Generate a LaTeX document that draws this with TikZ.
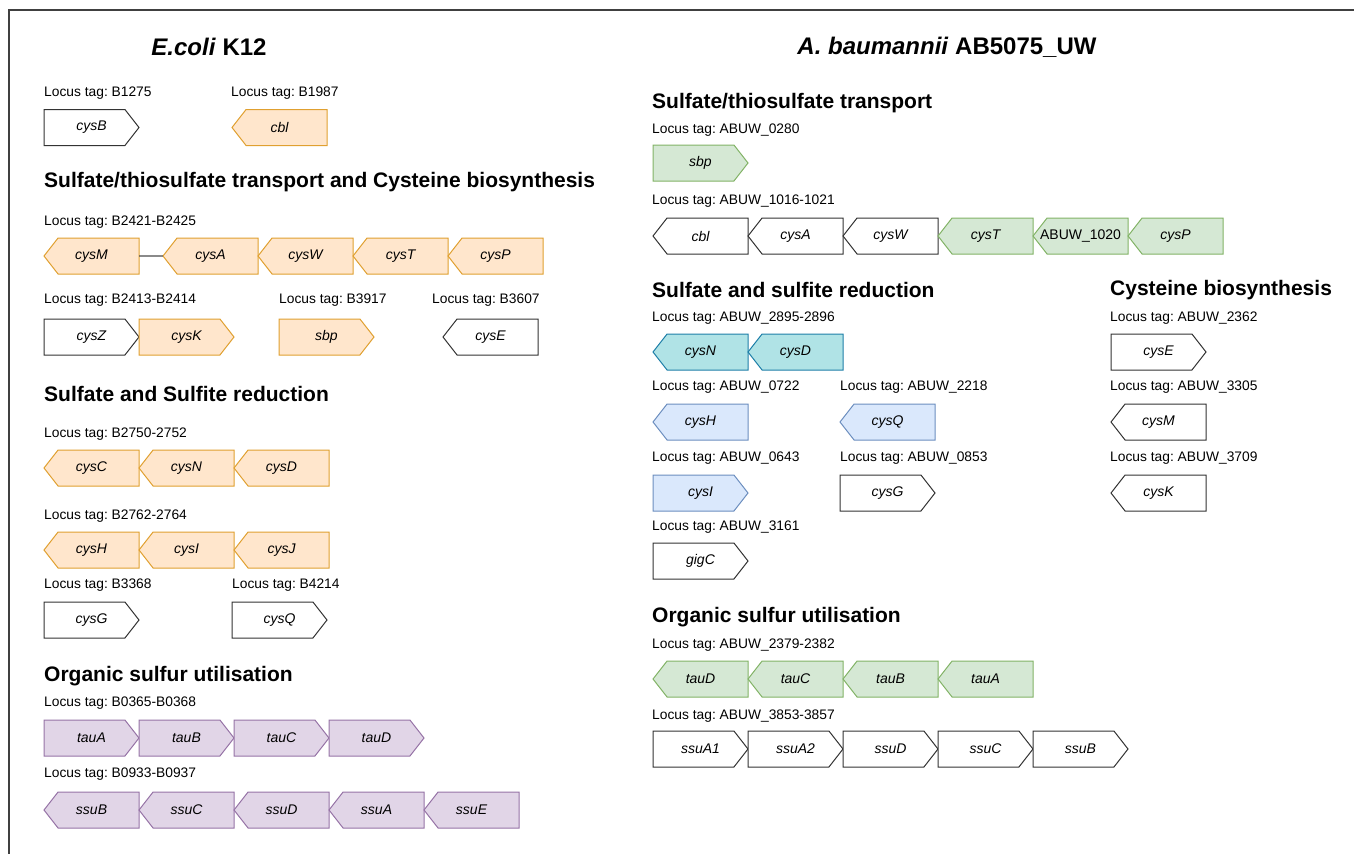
\documentclass[tikz,border=0pt]{standalone}
\usepackage{fontspec}
\setmainfont{Liberation Sans}
\usetikzlibrary{shapes.symbols, positioning}
\frenchspacing

\definecolor{ecOrangeF}{HTML}{FFE6CC}
\definecolor{ecOrangeD}{HTML}{E0A030}
\definecolor{ecPurpleF}{HTML}{E1D5E7}
\definecolor{ecPurpleD}{HTML}{9673A6}
\definecolor{abGreenF}{HTML}{D5E8D4}
\definecolor{abGreenD}{HTML}{82B366}
\definecolor{abBlueF}{HTML}{DAE8FC}
\definecolor{abBlueD}{HTML}{6C8EBF}
\definecolor{abTealF}{HTML}{B0E3E6}
\definecolor{abTealD}{HTML}{1E7FA8}

\tikzset{
  gene/.style={signal, signal from=nothing, signal pointer angle=104, anchor=west,
    minimum width=95pt, minimum height=36pt, inner sep=0pt, outer sep=0pt,
    line width=1pt, font=\fontsize{14}{16}\selectfont\itshape},
  fwd/.style={gene, signal to=east,
    execute at begin node={\hspace*{14pt}\hbox to 0pt\bgroup\hss},
    execute at end node={\hss\egroup}},
  rev/.style={gene, signal to=west,
    execute at begin node={\hbox to 0pt\bgroup\hss},
    execute at end node={\hss\egroup\hspace*{14pt}}},
  blank/.style={draw=black!80, fill=white},
  ecorange/.style={draw=ecOrangeD, fill=ecOrangeF},
  ecpurple/.style={draw=ecPurpleD, fill=ecPurpleF},
  abgreen/.style={draw=abGreenD, fill=abGreenF},
  abblue/.style={draw=abBlueD, fill=abBlueF},
  abteal/.style={draw=abTealD, fill=abTealF},
  tag/.style={anchor=west, inner sep=0pt, font=\fontsize{13.8}{16}\selectfont},
  head/.style={anchor=west, inner sep=0pt, font=\fontsize{21}{25}\selectfont\bfseries},
  title/.style={inner sep=0pt, font=\fontsize{24}{28}\selectfont\bfseries},
  link/.style={line width=1.2pt, black!70},
  frame/.style={line width=1.5pt, black!75}
}

\begin{document}
\begin{tikzpicture}[x=1pt, y=-1pt]
  \useasboundingbox (0,0) rectangle (1354,854);
  \draw [frame] (1354,10) -- (9,10) -- (9,854);

  %% E. coli K12
  \node (ecTitle) [title] at (209,47) {\textit{E.coli} K12};

  \node (ecTagB1275) [tag] at (44,93)  {Locus tag: B1275};
  \node (ecTagB1987) [tag] at (231,93) {Locus tag: B1987};
  \node (ecCysB) [fwd, blank]    at (44,127.5)  {cysB};
  \node (ecCbl)  [rev, ecorange] at (232,127.5) {cbl};

  \node (ecHeadTrans) [head] at (44,182) {Sulfate/thiosulfate transport and Cysteine biosynthesis};

  \node (ecTagB2421) [tag] at (44,222) {Locus tag: B2421-B2425};
  \node (ecCysM) [rev, ecorange] at (44,256) {cysM};
  \node (ecCysA) [rev, ecorange, right=24pt of ecCysM] {cysA};
  \node (ecCysW) [rev, ecorange, right=0pt of ecCysA]  {cysW};
  \node (ecCysT) [rev, ecorange, right=0pt of ecCysW]  {cysT};
  \node (ecCysP) [rev, ecorange, right=0pt of ecCysT]  {cysP};
  \draw [link] (ecCysM) -- (ecCysA);

  \node (ecTagB2413) [tag] at (44,300)  {Locus tag: B2413-B2414};
  \node (ecTagB3917) [tag] at (279,300) {Locus tag: B3917};
  \node (ecTagB3607) [tag] at (432,300) {Locus tag: B3607};
  \node (ecCysZ) [fwd, blank]    at (44,337) {cysZ};
  \node (ecCysK) [fwd, ecorange, right=0pt of ecCysZ] {cysK};
  \node (ecSbp)  [fwd, ecorange] at (279,337) {sbp};
  \node (ecCysE) [rev, blank]    at (443,337) {cysE};

  \node (ecHeadRed) [head] at (44,394) {Sulfate and Sulfite reduction};

  \node (ecTagB2750) [tag] at (44,434) {Locus tag: B2750-2752};
  \node (ecCysC) [rev, ecorange] at (44,468) {cysC};
  \node (ecCysN) [rev, ecorange, right=0pt of ecCysC] {cysN};
  \node (ecCysD) [rev, ecorange, right=0pt of ecCysN] {cysD};

  \node (ecTagB2762) [tag] at (44,516) {Locus tag: B2762-2764};
  \node (ecCysH) [rev, ecorange] at (44,550) {cysH};
  \node (ecCysI) [rev, ecorange, right=0pt of ecCysH] {cysI};
  \node (ecCysJ) [rev, ecorange, right=0pt of ecCysI] {cysJ};

  \node (ecTagB3368) [tag] at (44,585)  {Locus tag: B3368};
  \node (ecTagB4214) [tag] at (232,585) {Locus tag: B4214};
  \node (ecCysG) [fwd, blank] at (44,620)  {cysG};
  \node (ecCysQ) [fwd, blank] at (232,620) {cysQ};

  \node (ecHeadOrg) [head] at (44,676) {Organic sulfur utilisation};

  \node (ecTagB0365) [tag] at (44,703) {Locus tag: B0365-B0368};
  \node (ecTauA) [fwd, ecpurple] at (44,738) {tauA};
  \node (ecTauB) [fwd, ecpurple, right=0pt of ecTauA] {tauB};
  \node (ecTauC) [fwd, ecpurple, right=0pt of ecTauB] {tauC};
  \node (ecTauD) [fwd, ecpurple, right=0pt of ecTauC] {tauD};

  \node (ecTagB0933) [tag] at (44,774) {Locus tag: B0933-B0937};
  \node (ecSsuB) [rev, ecpurple] at (44,810) {ssuB};
  \node (ecSsuC) [rev, ecpurple, right=0pt of ecSsuB] {ssuC};
  \node (ecSsuD) [rev, ecpurple, right=0pt of ecSsuC] {ssuD};
  \node (ecSsuA) [rev, ecpurple, right=0pt of ecSsuD] {ssuA};
  \node (ecSsuE) [rev, ecpurple, right=0pt of ecSsuA] {ssuE};

  %% A. baumannii AB5075_UW
  \node (abTitle) [title] at (947,47) {\textit{A. baumannii} AB5075\_UW};

  \node (abHeadTrans) [head] at (652,103) {Sulfate/thiosulfate transport};
  \node (abTag0280) [tag] at (652,130) {Locus tag: ABUW\_0280};
  \node (abSbp) [fwd, abgreen] at (653,163) {sbp};

  \node (abTag1016) [tag] at (652,201) {Locus tag: ABUW\_1016-1021};
  \node (abCbl)  [rev, blank] at (653,236) {cbl};
  \node (abCysA) [rev, blank, right=0pt of abCbl]  {cysA};
  \node (abCysW) [rev, blank, right=0pt of abCysA] {cysW};
  \node (abCysT) [rev, abgreen, right=0pt of abCysW] {cysT};
  \node (abU1020) [rev, abgreen, right=0pt of abCysT] {\upshape ABUW\_1020};
  \node (abCysP) [rev, abgreen, right=0pt of abU1020] {cysP};

  \node (abHeadRed) [head] at (652,290)  {Sulfate and sulfite reduction};
  \node (abHeadCys) [head] at (1110,290) {Cysteine biosynthesis};

  \node (abTag2895) [tag] at (652,318) {Locus tag: ABUW\_2895-2896};
  \node (abCysN) [rev, abteal] at (653,352) {cysN};
  \node (abCysD) [rev, abteal, right=0pt of abCysN] {cysD};

  \node (abTag0722) [tag] at (652,387) {Locus tag: ABUW\_0722};
  \node (abTag2218) [tag] at (840,387) {Locus tag: ABUW\_2218};
  \node (abCysH) [rev, abblue] at (653,422) {cysH};
  \node (abCysQ) [rev, abblue] at (840,422) {cysQ};

  \node (abTag0643) [tag] at (652,458) {Locus tag: ABUW\_0643};
  \node (abTag0853) [tag] at (840,458) {Locus tag: ABUW\_0853};
  \node (abCysI) [fwd, abblue] at (653,493) {cysI};
  \node (abCysG) [fwd, blank]  at (840,493) {cysG};

  \node (abTag3161) [tag] at (652,527) {Locus tag: ABUW\_3161};
  \node (abGigC) [fwd, blank] at (653,561) {gigC};

  \node (abTag2362) [tag] at (1110,318) {Locus tag: ABUW\_2362};
  \node (abCysE) [fwd, blank] at (1111,352) {cysE};
  \node (abTag3305) [tag] at (1110,387) {Locus tag: ABUW\_3305};
  \node (abCysM) [rev, blank] at (1111,422) {cysM};
  \node (abTag3709) [tag] at (1110,458) {Locus tag: ABUW\_3709};
  \node (abCysK) [rev, blank] at (1111,493) {cysK};

  \node (abHeadOrg) [head] at (652,617) {Organic sulfur utilisation};

  \node (abTag2379) [tag] at (652,645) {Locus tag: ABUW\_2379-2382};
  \node (abTauD) [rev, abgreen] at (653,679) {tauD};
  \node (abTauC) [rev, abgreen, right=0pt of abTauD] {tauC};
  \node (abTauB) [rev, abgreen, right=0pt of abTauC] {tauB};
  \node (abTauA) [rev, abgreen, right=0pt of abTauB] {tauA};

  \node (abTag3853) [tag] at (652,716) {Locus tag: ABUW\_3853-3857};
  \node (abSsuA1) [fwd, blank] at (653,749) {ssuA1};
  \node (abSsuA2) [fwd, blank, right=0pt of abSsuA1] {ssuA2};
  \node (abSsuD)  [fwd, blank, right=0pt of abSsuA2] {ssuD};
  \node (abSsuC)  [fwd, blank, right=0pt of abSsuD]  {ssuC};
  \node (abSsuB)  [fwd, blank, right=0pt of abSsuC]  {ssuB};
\end{tikzpicture}
\end{document}
